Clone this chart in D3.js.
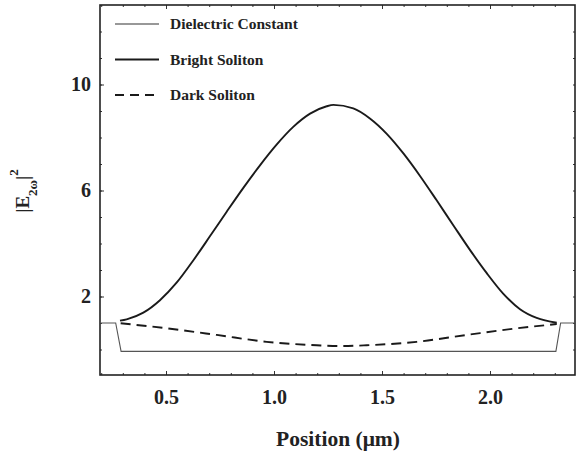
<!DOCTYPE html>
<html>
<head>
<meta charset="utf-8">
<script src="https://cdn.jsdelivr.net/npm/d3@7"></script>
<style>
  body { margin: 0; background: #fff; }
  text { font-family: "Liberation Serif", "Times New Roman", serif; font-weight: bold; fill: #222; }
</style>
</head>
<body>
<div id="chart"></div>
<script>
// ......................
// Data (position in um, |E|^2)
var dielectricX = [0.1944, 0.267, 0.292, 2.305, 2.327, 2.3935];
var dielectricY = [1.0, 1.0, -0.07, -0.07, 1.0, 1.0];

var brightX = [0.287, 0.318, 0.395, 0.472, 0.549, 0.626, 0.704, 0.781, 0.858, 0.935, 1.012, 1.089, 1.167, 1.244, 1.275,
               1.367, 1.444, 1.522, 1.599, 1.676, 1.753, 1.830, 1.907, 1.985, 2.062, 2.139, 2.216, 2.309];
var brightY = [1.09, 1.14, 1.39, 1.86, 2.52, 3.36, 4.28, 5.20, 6.10, 6.95, 7.73, 8.40, 8.90, 9.18, 9.23,
               9.10, 8.72, 8.14, 7.40, 6.55, 5.63, 4.69, 3.76, 2.88, 2.10, 1.52, 1.19, 1.01];

var darkX = [0.290, 0.503, 0.735, 0.966, 1.198, 1.306, 1.429, 1.660, 1.892, 2.124, 2.309];
var darkY = [0.99, 0.80, 0.55, 0.29, 0.16, 0.13, 0.16, 0.29, 0.55, 0.80, 0.96];

var xTickLabels = [0.5, 1.0, 1.5, 2.0];
var yTickLabels = [2, 6, 10];
var legendNames = ["Dielectric Constant", "Bright Soliton", "Dark Soliton"];

// ......................
// SVG area
var svgWidth = 576;
var svgHeight = 453;
var plot = { left: 100, right: 575, top: 5, bottom: 375 };

var svg = d3.select("#chart")
    .append("svg")
    .attr("width", svgWidth)
    .attr("height", svgHeight);

var x = d3.scaleLinear().domain([0.1944, 2.3935]).range([plot.left, plot.right]);
var y = d3.scaleLinear().domain([-0.962, 13.0]).range([plot.bottom, plot.top]);

// ......................
// Frame with inward ticks on all four sides
var xMinor = d3.range(2, 24).map(d => d / 10);
var yMinor = d3.range(0, 13);

function tickAxis(axisFn, scale, values, size, fmt) {
    return axisFn(scale).tickValues(values).tickSizeInner(-size).tickSizeOuter(0)
        .tickFormat(fmt || "").tickPadding(9);
}

var gx = svg.append("g").attr("transform", `translate(0, ${plot.bottom})`);
gx.call(tickAxis(d3.axisBottom, x, xMinor, 2));
gx.append("g").call(tickAxis(d3.axisBottom, x, xTickLabels, 4, d3.format(".1f")));

var gxTop = svg.append("g").attr("transform", `translate(0, ${plot.top})`);
gxTop.call(tickAxis(d3.axisTop, x, xMinor, 2));
gxTop.append("g").call(tickAxis(d3.axisTop, x, xTickLabels, 4));

var gy = svg.append("g").attr("transform", `translate(${plot.left}, 0)`);
gy.call(tickAxis(d3.axisLeft, y, yMinor, 2));
gy.append("g").call(tickAxis(d3.axisLeft, y, yTickLabels, 4, d3.format("d")));

var gyRight = svg.append("g").attr("transform", `translate(${plot.right}, 0)`);
gyRight.call(tickAxis(d3.axisRight, y, yMinor, 2));

svg.selectAll(".domain").remove();
svg.selectAll(".tick line").attr("stroke", "#333").attr("stroke-width", 1);
svg.selectAll(".tick text")
    .attr("font-size", 20)
    .attr("fill", "#222");
gx.selectAll(".tick text").attr("dy", "1.0em");

// frame lines
svg.append("rect")
    .attr("x", plot.left)
    .attr("y", plot.top)
    .attr("width", plot.right - plot.left)
    .attr("height", plot.bottom - plot.top)
    .attr("fill", "none")
    .attr("stroke", "#222")
    .attr("stroke-width", 1.6);

// ......................
// Curves
var line = d3.line()
    .x(d => x(d[0]))
    .y(d => y(d[1]));

var smooth = d3.line()
    .x(d => x(d[0]))
    .y(d => y(d[1]))
    .curve(d3.curveMonotoneX);

svg.append("path")
    .datum(d3.zip(dielectricX, dielectricY))
    .attr("d", line)
    .attr("fill", "none")
    .attr("stroke", "#555")
    .attr("stroke-width", 1.1);

svg.append("path")
    .datum(d3.zip(darkX, darkY))
    .attr("d", smooth)
    .attr("fill", "none")
    .attr("stroke", "#1a1a1a")
    .attr("stroke-width", 1.9)
    .attr("stroke-dasharray", "10,6");

svg.append("path")
    .datum(d3.zip(brightX, brightY))
    .attr("d", smooth)
    .attr("fill", "none")
    .attr("stroke", "#1a1a1a")
    .attr("stroke-width", 1.9);

// ......................
// Legend
var legendStyles = [
    { stroke: "#333", width: 1.1, dash: null },
    { stroke: "#1a1a1a", width: 2, dash: null },
    { stroke: "#1a1a1a", width: 2, dash: "9,6" }
];

var legend = svg.append("g").attr("class", "legend");
legendNames.forEach((name, i) => {
    var ly = 24 + i * 35.5;
    legend.append("line")
        .attr("x1", 115).attr("x2", 159)
        .attr("y1", ly).attr("y2", ly)
        .attr("stroke", legendStyles[i].stroke)
        .attr("stroke-width", legendStyles[i].width)
        .attr("stroke-dasharray", legendStyles[i].dash);
    legend.append("text")
        .attr("x", 170)
        .attr("y", ly + 5)
        .attr("font-size", 15.5)
        .text(name);
});

// ......................
// Axis titles
svg.append("text")
    .attr("x", 338)
    .attr("y", 446)
    .attr("text-anchor", "middle")
    .attr("font-size", 21.5)
    .text("Position (\u03bcm)");

var yTitle = svg.append("text")
    .attr("transform", "translate(29, 191) rotate(-90)")
    .attr("text-anchor", "middle")
    .attr("font-size", 19);
yTitle.append("tspan").text("|E");
yTitle.append("tspan").attr("font-size", 13).attr("dy", 8).text("2\u03c9");
yTitle.append("tspan").attr("dy", -8).text("|");
yTitle.append("tspan").attr("font-size", 13).attr("dy", -11).text("2");
</script>
</body>
</html>
